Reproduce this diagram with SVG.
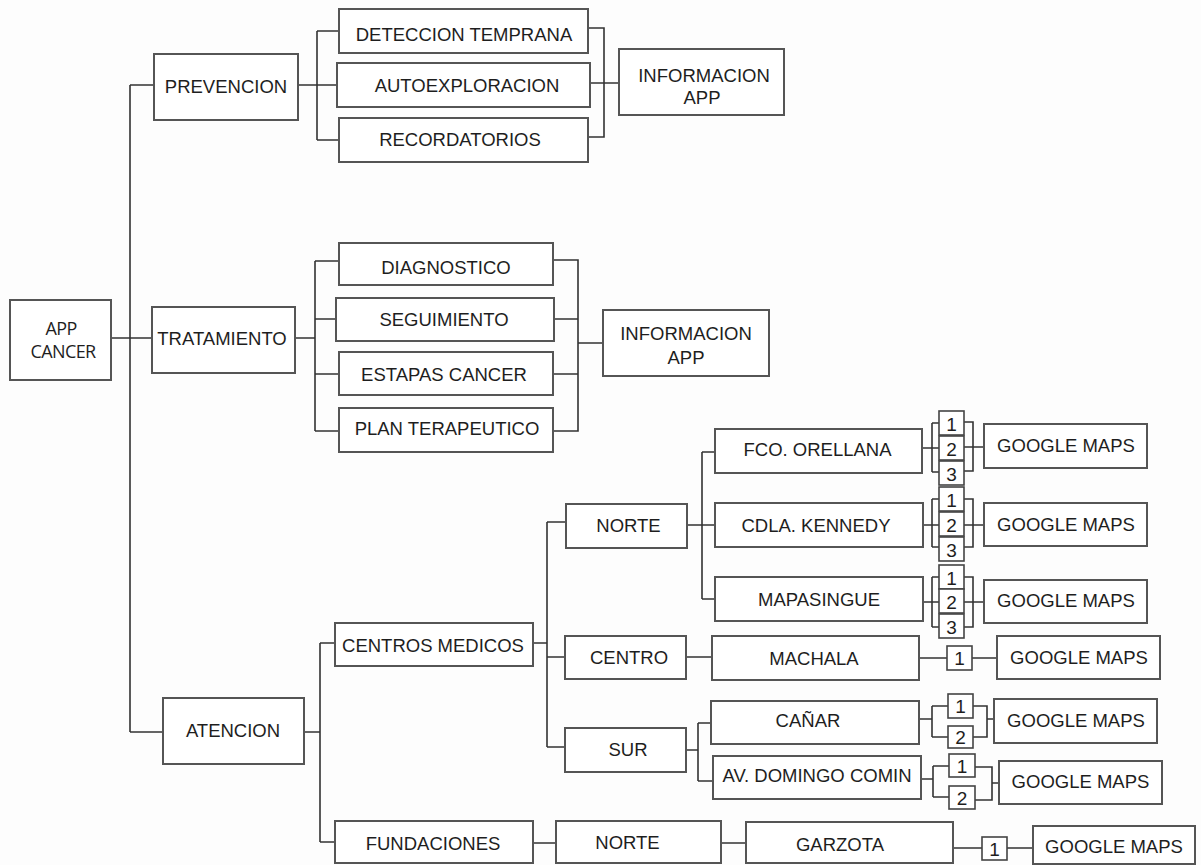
<svg xmlns="http://www.w3.org/2000/svg" width="1201" height="865" viewBox="0 0 1201 865">
<style>
.box{fill:#fff;stroke:#555;stroke-width:2}
.sb{fill:#fff;stroke:#444;stroke-width:1.6}
.conn{fill:none;stroke:#333;stroke-width:1.6}
text{font-family:"Liberation Sans",Arial,sans-serif;font-size:18.5px;fill:#1e1e1e;text-anchor:middle}
.n{font-size:19px}
.app{font-family:"Open Sans","Liberation Sans",sans-serif;font-size:18px;letter-spacing:-0.6px}
</style>
<rect width="1201" height="865" fill="#fdfdfd"/>
<g id="connectors">
<path class="conn" d="M111,338H152 M130,85V732 M130,85H154 M130,732H163"/>
<path class="conn" d="M298,85H317 M317,31V140 M317,31H339 M317,85H337 M317,140H339 M588,28H604V137H588 M590,83H619"/>
<path class="conn" d="M295,338H315 M315,261V431 M315,261H339 M315,319H336 M315,374H339 M315,431H339 M553,260H578V431H553 M554,319H578 M553,374H578 M578,343H603"/>
<path class="conn" d="M304,732H320 M320,643V842 M320,643H335 M320,842H335"/>
<path class="conn" d="M533,643H547 M547,522V747 M547,522H566 M547,657H565 M547,747H565"/>
<path class="conn" d="M687,525H702 M702,452V599 M702,452H715 M702,525H715 M702,599H715"/>
<path class="conn" d="M922,448H932 M932,423V472 M932,423H939 M932,448H939 M932,472H939 M964,422H973V471H964 M964,447H984"/>
<path class="conn" d="M923,525H932 M932,499V547 M932,499H939 M932,525H939 M932,547H939 M964,499H973V547H964 M964,525H984"/>
<path class="conn" d="M923,602H932 M932,577V627 M932,577H939 M932,602H939 M932,627H939 M964,577H973V627H964 M964,602H984"/>
<path class="conn" d="M686,657H712 M919,658H947 M972,658H997"/>
<path class="conn" d="M686,750H698 M698,723V781 M698,723H711 M698,781H713"/>
<path class="conn" d="M919,719H932 M932,706V737 M932,706H948 M932,737H948 M973,706H987V737H973 M987,719H994"/>
<path class="conn" d="M921,779H933 M933,766V797 M933,766H949 M933,797H949 M975,767H992V800H975 M992,783H999"/>
<path class="conn" d="M533,843H556 M721,843H746 M953,848H982 M1007,848H1033"/>
</g>
<g id="app-cancer"><rect class="box" x="10" y="300" width="101" height="80"/><text class="app" x="61" y="335">APP</text><text class="app" x="63" y="358">CANCER</text></g>
<g id="prevencion"><rect class="box" x="154" y="54" width="144" height="66"/><text x="226" y="93">PREVENCION</text></g>
<g id="deteccion"><rect class="box" x="339" y="9" width="249" height="44"/><text x="464" y="40.5">DETECCION TEMPRANA</text></g>
<g id="autoexploracion"><rect class="box" x="337" y="63" width="253" height="44"/><text x="467" y="92">AUTOEXPLORACION</text></g>
<g id="recordatorios"><rect class="box" x="339" y="118" width="249" height="44"/><text x="460" y="146">RECORDATORIOS</text></g>
<g id="info-app-1"><rect class="box" x="619" y="49" width="165" height="66"/><text x="704" y="81.5">INFORMACION</text><text x="702" y="103.5">APP</text></g>
<g id="tratamiento"><rect class="box" x="152" y="307" width="143" height="66"/><text x="222" y="345">TRATAMIENTO</text></g>
<g id="diagnostico"><rect class="box" x="339" y="243" width="214" height="42"/><text x="446" y="274">DIAGNOSTICO</text></g>
<g id="seguimiento"><rect class="box" x="336" y="298" width="218" height="43"/><text x="444" y="326">SEGUIMIENTO</text></g>
<g id="estapas"><rect class="box" x="339" y="352" width="214" height="43"/><text x="444" y="381">ESTAPAS CANCER</text></g>
<g id="plan"><rect class="box" x="339" y="408" width="214" height="44"/><text x="447" y="435">PLAN TERAPEUTICO</text></g>
<g id="info-app-2"><rect class="box" x="603" y="310" width="166" height="66"/><text x="686" y="340">INFORMACION</text><text x="686" y="363.5">APP</text></g>
<g id="atencion"><rect class="box" x="163" y="698" width="141" height="66"/><text x="233" y="737">ATENCION</text></g>
<g id="centros-medicos"><rect class="box" x="335" y="623" width="198" height="43"/><text x="433" y="651.5">CENTROS MEDICOS</text></g>
<g id="fundaciones"><rect class="box" x="335" y="821" width="198" height="42"/><text x="433" y="850">FUNDACIONES</text></g>
<g id="norte"><rect class="box" x="566" y="504" width="121" height="44"/><text x="628.5" y="531.5">NORTE</text></g>
<g id="centro"><rect class="box" x="565" y="636" width="121" height="43"/><text x="629" y="664">CENTRO</text></g>
<g id="sur"><rect class="box" x="565" y="728" width="121" height="44"/><text x="628" y="756">SUR</text></g>
<g id="norte-2"><rect class="box" x="556" y="821" width="165" height="42"/><text x="627.5" y="848.5">NORTE</text></g>
<g id="fco-orellana"><rect class="box" x="715" y="429" width="207" height="44"/><text x="817.5" y="456">FCO. ORELLANA</text></g>
<g id="cdla-kennedy"><rect class="box" x="715" y="503" width="208" height="44"/><text x="816" y="531.5">CDLA. KENNEDY</text></g>
<g id="mapasingue"><rect class="box" x="715" y="577" width="208" height="44"/><text x="819" y="605.5">MAPASINGUE</text></g>
<g id="machala"><rect class="box" x="712" y="636" width="207" height="44"/><text x="814" y="664.5">MACHALA</text></g>
<g id="canar"><rect class="box" x="711" y="701" width="208" height="43"/><text x="808" y="727">CAÑAR</text></g>
<g id="av-domingo-comin"><rect class="box" x="713" y="756" width="208" height="43"/><text x="817" y="782">AV. DOMINGO COMIN</text></g>
<g id="garzota"><rect class="box" x="746" y="822" width="207" height="41"/><text x="840" y="851">GARZOTA</text></g>
<g id="fco-nums"><rect class="sb" x="939" y="411" width="25" height="24"/><text class="n" x="951.5" y="431">1</text><rect class="sb" x="939" y="436" width="25" height="24"/><text class="n" x="951.5" y="456">2</text><rect class="sb" x="939" y="461" width="25" height="24"/><text class="n" x="951.5" y="481">3</text></g>
<g id="cdla-nums"><rect class="sb" x="939" y="487" width="25" height="24"/><text class="n" x="951.5" y="507">1</text><rect class="sb" x="939" y="512" width="25" height="24"/><text class="n" x="951.5" y="532">2</text><rect class="sb" x="939" y="537" width="25" height="24"/><text class="n" x="951.5" y="557">3</text></g>
<g id="mapa-nums"><rect class="sb" x="939" y="565" width="25" height="24"/><text class="n" x="951.5" y="585">1</text><rect class="sb" x="939" y="589" width="25" height="24"/><text class="n" x="951.5" y="609">2</text><rect class="sb" x="939" y="614" width="25" height="24"/><text class="n" x="951.5" y="634">3</text></g>
<g id="machala-nums"><rect class="sb" x="947" y="646" width="25" height="24"/><text class="n" x="959.5" y="665">1</text></g>
<g id="canar-nums"><rect class="sb" x="948" y="694" width="25" height="24"/><text class="n" x="960.5" y="713">1</text><rect class="sb" x="948" y="726" width="25" height="22"/><text class="n" x="960.5" y="744">2</text></g>
<g id="av-nums"><rect class="sb" x="949" y="754" width="26" height="23"/><text class="n" x="962" y="772.5">1</text><rect class="sb" x="949" y="786" width="26" height="23"/><text class="n" x="962" y="804.5">2</text></g>
<g id="garzota-nums"><rect class="sb" x="982" y="837" width="25" height="23"/><text class="n" x="994.5" y="855.5">1</text></g>
<g id="maps-fco"><rect class="box" x="984" y="424" width="163" height="44"/><text x="1066" y="452">GOOGLE MAPS</text></g>
<g id="maps-cdla"><rect class="box" x="984" y="503" width="163" height="43"/><text x="1066" y="530.5">GOOGLE MAPS</text></g>
<g id="maps-mapa"><rect class="box" x="984" y="580" width="163" height="43"/><text x="1066" y="607">GOOGLE MAPS</text></g>
<g id="maps-machala"><rect class="box" x="997" y="636" width="163" height="43"/><text x="1079" y="664">GOOGLE MAPS</text></g>
<g id="maps-canar"><rect class="box" x="994" y="699" width="163" height="44"/><text x="1076" y="727">GOOGLE MAPS</text></g>
<g id="maps-av"><rect class="box" x="999" y="761" width="163" height="43"/><text x="1080.5" y="787.5">GOOGLE MAPS</text></g>
<g id="maps-garzota"><rect class="box" x="1033" y="826" width="162" height="38"/><text x="1114" y="853">GOOGLE MAPS</text></g>
</svg>
